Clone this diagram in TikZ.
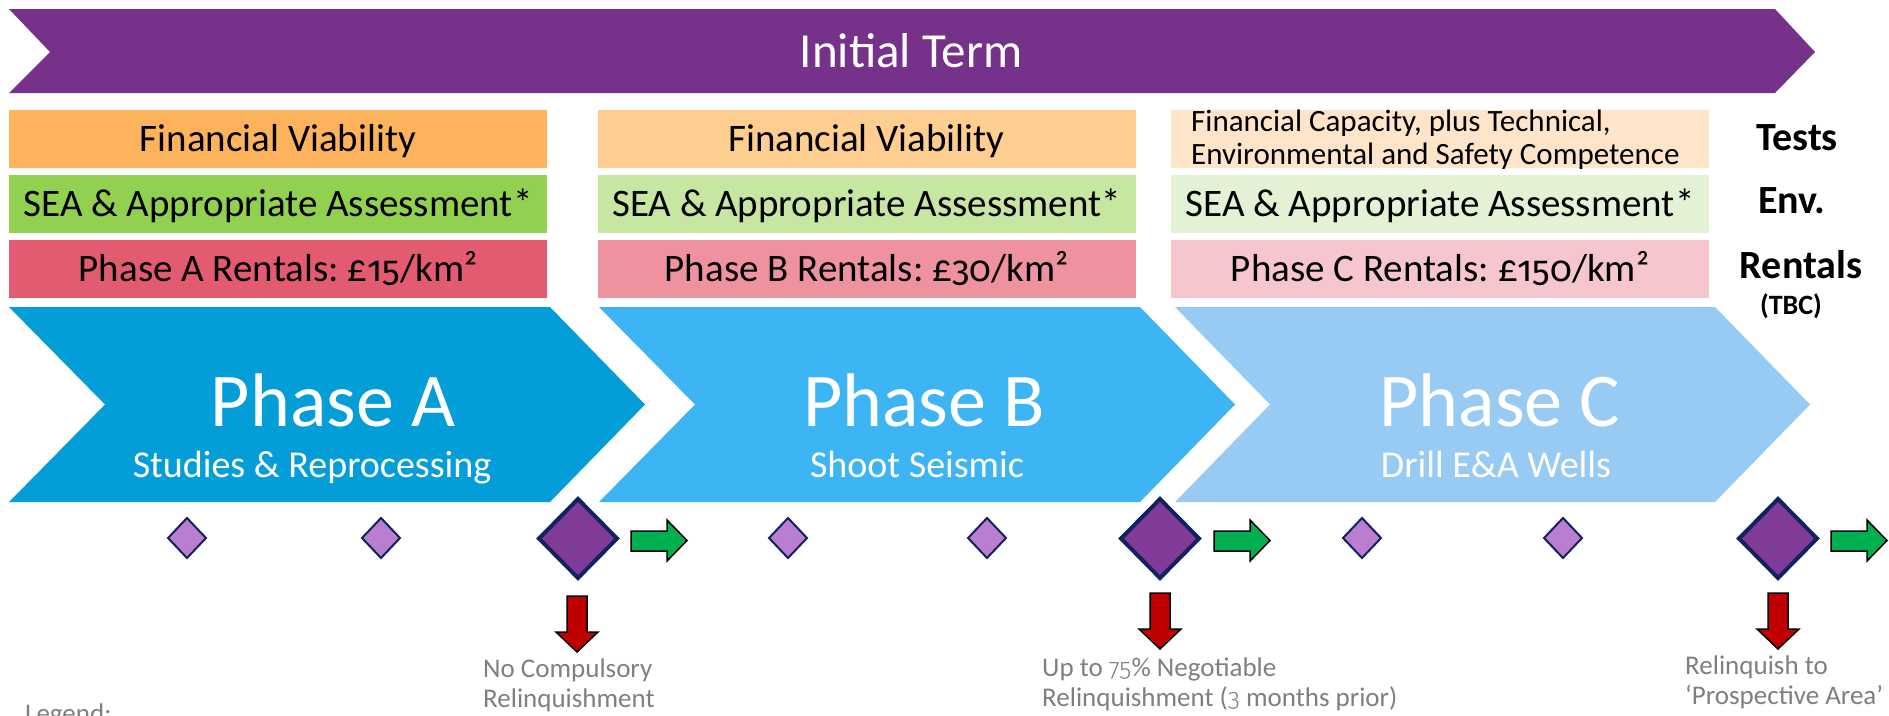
\documentclass[tikz,border=0pt]{standalone}
\usepackage{fontspec}
\setmainfont{Carlito}
\newfontfamily\osf{Fira Sans}[Numbers=OldStyle, Scale=0.92]
\newfontfamily\osflight{Fira Sans Light}[Numbers=OldStyle, Scale=0.92]
\definecolor{banner}{HTML}{76318B}
\definecolor{fvA}{HTML}{FDB35B}
\definecolor{fvB}{HTML}{FECD90}
\definecolor{fvC}{HTML}{FEE5CA}
\definecolor{seaA}{HTML}{92D050}
\definecolor{seaB}{HTML}{C6E6A2}
\definecolor{seaC}{HTML}{E3F2D5}
\definecolor{rentA}{HTML}{E35B71}
\definecolor{rentB}{HTML}{EE929F}
\definecolor{rentC}{HTML}{F6C6CE}
\definecolor{phA}{HTML}{039ED8}
\definecolor{phB}{HTML}{3DB4F3}
\definecolor{phC}{HTML}{98CBF3}
\definecolor{dsmall}{HTML}{B97ECF}
\definecolor{dbig}{HTML}{803A98}
\definecolor{navy}{HTML}{14215F}
\definecolor{goarrow}{HTML}{00B050}
\definecolor{redarrow}{HTML}{C00000}
\definecolor{graytext}{HTML}{7F7F7F}
\tikzset{
  cell/.style={inner sep=0pt, minimum width=538pt, minimum height=58pt, text height=25pt, text depth=0pt, font=\fontsize{39}{42}\selectfont, text=black},
  side/.style={inner sep=0pt, anchor=base, font=\fontsize{40}{44}\selectfont\bfseries, text=black},
  bigtitle/.style={inner sep=0pt, anchor=base, font=\fontsize{76}{80}\selectfont, text=white},
  subtitle/.style={inner sep=0pt, anchor=base, font=\fontsize{38}{42}\selectfont, text=white},
  note/.style={inner sep=0pt, anchor=base west, font=\fontsize{27}{30}\selectfont, text=graytext},
  smalld/.style={fill=dsmall, draw=navy, line width=2pt, line join=miter},
  bigd/.style={fill=dbig, draw=navy, line width=4pt, line join=miter},
  goarr/.style={fill=goarrow, draw=black, line width=1.5pt},
  redarr/.style={fill=redarrow, draw=black, line width=1.5pt}
}
\begin{document}
\begin{tikzpicture}[x=1pt,y=-1pt]
\useasboundingbox (0,0) rectangle (1889,715);
\clip (0,0) rectangle (1889,715);
% banner
\fill[banner] (9,9) -- (1775,9) -- (1815,52) -- (1775,93) -- (9,93) -- (50,52) -- cycle;
\node[inner sep=0pt, text=white, font=\fontsize{49}{52}\selectfont] (title) at (911,51) {Initial Term};
% boxes
\node[cell, fill=fvA] (fvA) at (278,139) {Financial Viability};
\node[cell, fill=seaA] (seaA) at (278,204) {SEA \& Appropriate Assessment*};
\node[cell, fill=rentA] (rentA) at (278,269) {Phase A Rentals:\ £{\osf 15}/km²};
\node[cell, fill=fvB] (fvB) at (866.5,139) {Financial Viability};
\node[cell, fill=seaB] (seaB) at (866.5,204) {SEA \& Appropriate Assessment*};
\node[cell, fill=rentB] (rentB) at (866.5,269) {Phase B Rentals:\ £{\osf 30}/km²};
\node[cell, fill=fvC] (fvC) at (1440,139) {};
\node[inner sep=0pt, anchor=base west, font=\fontsize{31}{34}\selectfont] (fvCa) at (1191,131) {Financial Capacity, plus Technical,};
\node[inner sep=0pt, anchor=base west, font=\fontsize{31}{34}\selectfont] (fvCb) at (1191,164) {Environmental and Safety Competence};
\node[cell, fill=seaC] (seaC) at (1440,204) {SEA \& Appropriate Assessment*};
\node[cell, fill=rentC] (rentC) at (1440,269) {Phase C Rentals:\ £{\osf 150}/km²};
% side labels
\node[side] (tests) at (1797,150) {Tests};
\node[side] (env) at (1792,213) {Env.};
\node[side] (rentals) at (1801,278) {Rentals};
\node[side, font=\fontsize{28}{30}\selectfont\bfseries] (tbc) at (1791,314) {(TBC)};
% chevrons
\fill[phA] (9,307) -- (550,307) -- (645,404.5) -- (550,502) -- (9,502) -- (105,404.5) -- cycle;
\fill[phB] (599,307) -- (1140,307) -- (1235,404.5) -- (1140,502) -- (599,502) -- (695,404.5) -- cycle;
\fill[phC] (1175,307) -- (1715,307) -- (1810,404.5) -- (1715,502) -- (1175,502) -- (1270,404.5) -- cycle;
\node[bigtitle] (pA) at (333,426) {Phase A};
\node[subtitle] (sA) at (312,477) {Studies \& Reprocessing};
\node[bigtitle] (pB) at (924,426) {Phase B};
\node[subtitle] (sB) at (917,477) {Shoot Seismic};
\node[bigtitle] (pC) at (1500,426) {Phase C};
\node[subtitle] (sC) at (1496,477) {Drill E\&A Wells};
% small diamonds
\foreach \cx in {187,381,788,987,1362,1563}
  \draw[smalld] (\cx,518) -- (\cx+19,538) -- (\cx,558) -- (\cx-19,538) -- cycle;
% big diamonds
\foreach \cx in {578,1160,1778}
  \draw[bigd] (\cx,499) -- (\cx+39,538.5) -- (\cx,578) -- (\cx-39,538.5) -- cycle;
% green arrows
\foreach \x in {631,1214,1831}
  \draw[goarr] (\x,531) -- (\x+36,531) -- (\x+36,520) -- (\x+56,540.5) -- (\x+36,561) -- (\x+36,551) -- (\x,551) -- cycle;
% red arrows
\foreach \cx/\ty in {577/596,1160/593,1778/593}
  \draw[redarr] (\cx-10,\ty) -- (\cx+10,\ty) -- (\cx+10,\ty+36) -- (\cx+21,\ty+36) -- (\cx,\ty+56) -- (\cx-21,\ty+36) -- (\cx-10,\ty+36) -- cycle;
% notes
\node[note] (nA1) at (483,677) {No Compulsory};
\node[note] (nA2) at (483,707) {Relinquishment};
\node[note] (nB1) at (1042,676) {Up to {\osflight 75}\% Negotiable};
\node[note] (nB2) at (1042,706) {Relinquishment ({\osflight 3} months prior)};
\node[note] (nC1) at (1685,674) {Relinquish to};
\node[note] (nC2) at (1685,704) {‘Prospective Area’};
\node[note] (legend) at (25,722) {Legend:};
\end{tikzpicture}
\end{document}
